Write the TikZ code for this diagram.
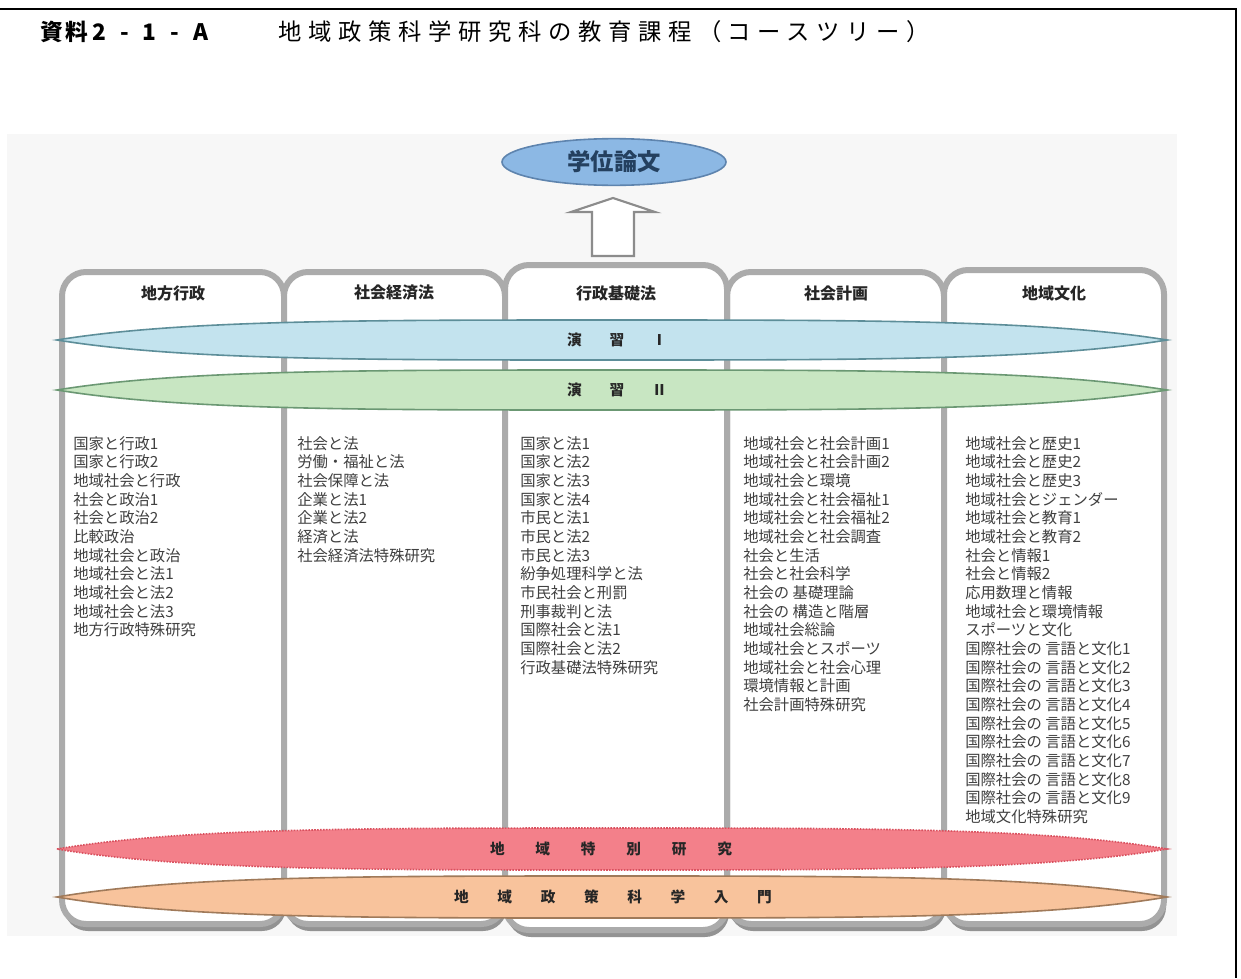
\documentclass[tikz,border=0pt]{standalone}
\usepackage{fontspec}
\setmainfont{Noto Sans CJK JP}
\usetikzlibrary{shapes.geometric}
\definecolor{photo}{HTML}{F7F7F7}
\definecolor{colline}{HTML}{ABABAB}
\definecolor{colshade}{HTML}{939393}
\definecolor{thesisfill}{HTML}{8CB8E4}
\definecolor{thesisdraw}{HTML}{5E84AE}
\definecolor{thesistext}{HTML}{24405F}
\definecolor{exIfill}{HTML}{C3E3EE}
\definecolor{exIdraw}{HTML}{5D8E99}
\definecolor{exIIfill}{HTML}{C8E6C2}
\definecolor{exIIdraw}{HTML}{6B9873}
\definecolor{spfill}{HTML}{F3808A}
\definecolor{spdraw}{HTML}{D9505E}
\definecolor{introfill}{HTML}{F8C39C}
\definecolor{introdraw}{HTML}{A07A5A}
\begin{document}
\begin{tikzpicture}[x=0.75pt,y=-0.75pt,
  col/.style={draw=colline, line width=4.5pt, fill=white, rounded corners=18pt},
  colshadow/.style={fill=colshade, rounded corners=18pt},
  head/.style={font=\fontsize{12}{14}\selectfont\bfseries, text=black!85},
  items/.style={anchor=north west, align=left, inner sep=0pt, text=black!75,
    font=\fontsize{11.5}{14}\selectfont},
  bandtext/.style={font=\fontsize{11}{13}\selectfont\bfseries, text=black!85}]
  \useasboundingbox (0,0) rectangle (1241,978);
  % frame and title
  \draw[line width=2pt] (0,9) -- (1236,9) -- (1236,978);
  \node[anchor=west, inner sep=0pt, font=\fontsize{17}{18}\selectfont\bfseries] (ttlA) at (40,32)
    {{\addfontfeature{LetterSpace=10}資料}\hspace{0.2em}{\addfontfeature{LetterSpace=62}2-1-A}};
  \node[anchor=west, inner sep=0pt, font=\fontsize{17.5}{19}\selectfont\addfontfeature{LetterSpace=28.5}] (ttlB) at (278,32) {地域政策科学研究科の教育課程（コースツリー）};
  \fill[photo] (7,134) rectangle (1177,936);
  % course columns
  \foreach \xa/\xb/\t/\b in {62/284/272/924, 284/505/272/924, 727/944/272/924, 944/1164/270/924, 505/727/265/930} {
    \fill[colshadow] (\xa+2,\b-40) rectangle (\xb+2,\b+7);
    \draw[col] (\xa,\t) rectangle (\xb,\b);
  }
  \node[head] (hd1) at (173,293) {地方行政};
  \node[head] (hd2) at (394,293) {社会経済法};
  \node[head] (hd3) at (616,293) {行政基礎法};
  \node[head] (hd4) at (836,293) {社会計画};
  \node[head] (hd5) at (1054,293) {地域文化};
  % thesis and arrow
  \node[ellipse, draw=thesisdraw, line width=1.2pt, fill=thesisfill, minimum width=168pt, minimum height=35pt,
    text=thesistext, font=\fontsize{17.5}{19}\selectfont\bfseries] (thesis) at (614,162) {学位論文};
  \draw[draw=black!45, line width=1.6pt, fill=white] (592,256) -- (592,212) -- (571,212) -- (613,198)
    -- (655,212) -- (634,212) -- (634,256) -- cycle;
  % bands
  \foreach \y/\h/\fc/\dc/\ds in {340/20/exIfill/exIdraw/solid, 390/20/exIIfill/exIIdraw/solid,
      849/21/spfill/spdraw/densely dotted, 897/21/introfill/introdraw/solid} {
    \draw[fill=\fc, draw=\dc, line width=1.2pt, \ds]
      (57,\y) .. controls (180,\y-\h) and (360,\y-\h) .. (612,\y-\h)
      .. controls (864,\y-\h) and (1044,\y-\h) .. (1167,\y)
      .. controls (1044,\y+\h) and (864,\y+\h) .. (612,\y+\h)
      .. controls (360,\y+\h) and (180,\y+\h) .. cycle;
  }
  \node[bandtext] (ex1) at (617,340) {演\hspace{1.9em}習\hspace{1.9em}Ⅰ};
  \node[bandtext] (ex2) at (617,390) {演\hspace{1.9em}習\hspace{1.9em}Ⅱ};
  \node[bandtext] (sp) at (611,849) {地\hspace{2.1em}域\hspace{2.1em}特\hspace{2.1em}別\hspace{2.1em}研\hspace{2.1em}究};
  \node[bandtext] (intro) at (613,897) {地\hspace{1.95em}域\hspace{1.95em}政\hspace{1.95em}策\hspace{1.95em}科\hspace{1.95em}学\hspace{1.95em}入\hspace{1.95em}門};
  % course lists
  \node[items] (ls1) at (73,436) {国家と行政1\\国家と行政2\\地域社会と行政\\社会と政治1\\社会と政治2\\比較政治\\地域社会と政治\\地域社会と法1\\地域社会と法2\\地域社会と法3\\地方行政特殊研究};
  \node[items] (ls2) at (297,436) {社会と法\\労働・福祉と法\\社会保障と法\\企業と法1\\企業と法2\\経済と法\\社会経済法特殊研究};
  \node[items] (ls3) at (520,436) {国家と法1\\国家と法2\\国家と法3\\国家と法4\\市民と法1\\市民と法2\\市民と法3\\紛争処理科学と法\\市民社会と刑罰\\刑事裁判と法\\国際社会と法1\\国際社会と法2\\行政基礎法特殊研究};
  \node[items] (ls4) at (743,436) {地域社会と社会計画1\\地域社会と社会計画2\\地域社会と環境\\地域社会と社会福祉1\\地域社会と社会福祉2\\地域社会と社会調査\\社会と生活\\社会と社会科学\\社会の 基礎理論\\社会の 構造と階層\\地域社会総論\\地域社会とスポーツ\\地域社会と社会心理\\環境情報と計画\\社会計画特殊研究};
  \node[items] (ls5) at (965,436) {地域社会と歴史1\\地域社会と歴史2\\地域社会と歴史3\\地域社会とジェンダー\\地域社会と教育1\\地域社会と教育2\\社会と情報1\\社会と情報2\\応用数理と情報\\地域社会と環境情報\\スポーツと文化\\国際社会の 言語と文化1\\国際社会の 言語と文化2\\国際社会の 言語と文化3\\国際社会の 言語と文化4\\国際社会の 言語と文化5\\国際社会の 言語と文化6\\国際社会の 言語と文化7\\国際社会の 言語と文化8\\国際社会の 言語と文化9\\地域文化特殊研究};
\end{tikzpicture}
\end{document}
